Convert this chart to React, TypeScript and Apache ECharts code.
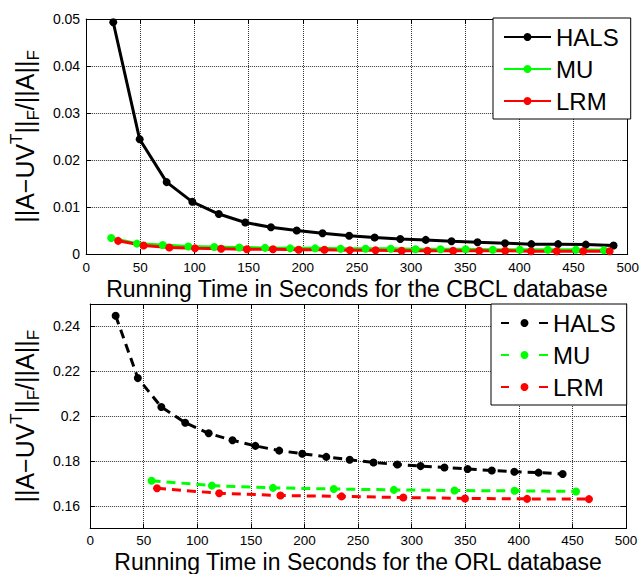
import React, { useEffect, useRef } from 'react';
import * as echarts from 'echarts';

// ---------- data ----------
const xTickValues = [0, 50, 100, 150, 200, 250, 300, 350, 400, 450, 500];
const cbclYTicks = [0, 0.01, 0.02, 0.03, 0.04, 0.05];
const orlYTicks = [0.16, 0.18, 0.2, 0.22, 0.24];
const seriesNames = ['HALS', 'MU', 'LRM'];

const cbclHalsX = [25, 49.4, 74.3, 98, 122.5, 146.9, 170.6, 194.4, 218.2, 242.8, 266.3, 290, 313.5, 337.3, 361.3, 386.7, 411, 435.7, 461.3, 486.9];
const cbclHalsY = [0.0493, 0.0244, 0.0153, 0.0111, 0.0085, 0.0067, 0.0057, 0.005, 0.0044, 0.0039, 0.0035, 0.0032, 0.003, 0.0027, 0.0025, 0.0023, 0.0021, 0.0021, 0.002, 0.0018];
const cbclMuX = [23.1, 46.9, 70.7, 94.4, 118.2, 141.4, 165.2, 188.3, 211.4, 234.9, 258, 281.2, 304.1, 327.2, 350.4, 375.4, 400.4, 426.2, 452.2, 478.1];
const cbclMuY = [0.0034, 0.0022, 0.0019, 0.0016, 0.0015, 0.0014, 0.0013, 0.0012, 0.0012, 0.0011, 0.0011, 0.0011, 0.001, 0.001, 0.001, 0.0009, 0.0009, 0.0009, 0.0009, 0.0008];
const cbclLrmX = [29.5, 53, 76.8, 100.5, 124.6, 148.4, 172.5, 196.2, 220, 243.4, 267.2, 291.3, 315.1, 338.8, 362.9, 386.9, 410.7, 434.5, 458.9, 483.3];
const cbclLrmY = [0.0028, 0.0018, 0.0014, 0.0012, 0.0011, 0.001, 0.001, 0.0009, 0.0009, 0.0008, 0.0008, 0.0007, 0.0007, 0.0007, 0.0007, 0.0007, 0.0006, 0.0006, 0.0006, 0.0006];

const orlHalsX = [23.8, 44.5, 66.4, 88.7, 110.6, 132.8, 154.2, 176.4, 197.9, 220.3, 242.2, 264.4, 286.7, 308.3, 330.6, 352.2, 374.8, 395.8, 418.4, 440.9];
const orlHalsY = [0.2448, 0.217, 0.2041, 0.1971, 0.1924, 0.1893, 0.1868, 0.1847, 0.1833, 0.1819, 0.1806, 0.1794, 0.1785, 0.1778, 0.1772, 0.1765, 0.1758, 0.1753, 0.1749, 0.1743];
const orlMuX = [57.3, 113.6, 170.6, 227.3, 283.4, 340, 396, 453.4];
const orlMuY = [0.1713, 0.1691, 0.1681, 0.1676, 0.1672, 0.1669, 0.1668, 0.1665];
const orlLrmX = [62.4, 120.4, 177.6, 234.6, 292.2, 349.8, 407.7, 465.5];
const orlLrmY = [0.1679, 0.1657, 0.1647, 0.1643, 0.1638, 0.1634, 0.1632, 0.1631];

const colors = ['#000000', '#00ff00', '#ff0000'];
const FONT = '"Liberation Sans", Arial, Helvetica, sans-serif';

const zip = (xs: number[], ys: number[]) => xs.map((x, i) => [x, ys[i]]);

const yName = '{m|||A\u2212UV}{sup|T}{m|||}{sub|F}{m|/||A||}{sub|F}';
const yNameStyle = {
  color: '#000',
  fontFamily: FONT,
  fontSize: 25,
  rich: {
    m: { fontSize: 25, fontFamily: FONT, color: '#000', lineHeight: 34 },
    sup: { fontSize: 17, fontFamily: FONT, color: '#000', verticalAlign: 'top', lineHeight: 17 },
    sub: { fontSize: 17, fontFamily: FONT, color: '#000', verticalAlign: 'bottom', lineHeight: 17 },
  },
};

const gridLine = { show: true, lineStyle: { color: '#333', type: 'dotted', width: 1 } };
const axisLineStyle = { show: true, onZero: false, lineStyle: { color: '#000', width: 1 } };
const tickStyle = { show: true, inside: true, length: 5, lineStyle: { color: '#000', width: 1 } };

function makeX(gridIndex: number, title: string, labelMargin: number, nameGap: number, nameLH: number) {
  return [
    {
      type: 'value', gridIndex, position: 'bottom', min: 0, max: 500, interval: 50,
      axisLine: axisLineStyle, axisTick: tickStyle,
      axisLabel: { color: '#000', fontSize: 13.5, lineHeight: 13.5, fontFamily: FONT, margin: labelMargin },
      splitLine: gridLine,
      name: title, nameLocation: 'middle', nameGap,
      nameTextStyle: { color: '#000', fontSize: 23, lineHeight: nameLH, fontFamily: FONT },
    },
    {
      type: 'value', gridIndex, position: 'top', min: 0, max: 500, interval: 50,
      axisLine: axisLineStyle, axisTick: tickStyle,
      axisLabel: { show: false }, splitLine: { show: false },
    },
  ];
}

export default function App() {
  const ref = useRef<HTMLDivElement>(null);
  useEffect(() => {
    if (!ref.current) return;
    const chart = echarts.init(ref.current, undefined, { renderer: 'svg' });
    const mk = (name: string, xs: number[], ys: number[], color: string, axis: number, dashed: boolean) => ({
      type: 'line', name, data: zip(xs, ys), xAxisIndex: axis, yAxisIndex: axis,
      symbol: 'circle', symbolSize: 8, showSymbol: true,
      lineStyle: { color, width: 3, type: dashed ? [9, 6] : 'solid' },
      itemStyle: { color },
      z: 3,
    });
    const legendBase = {
      orient: 'vertical',
      itemWidth: 47, itemHeight: 10, itemGap: 6,
      backgroundColor: '#fff', borderColor: '#000', borderWidth: 1, borderRadius: 0,
      textStyle: { color: '#000', fontSize: 24, fontFamily: FONT, lineHeight: 26 },
      selectedMode: false,
      formatter: (n: string) => n.split(' ')[0],
    };
    chart.setOption({
      animation: false,
      backgroundColor: '#fff',
      grid: [
        { left: 82, top: 19, width: 547, height: 235 },
        { left: 79, top: 304, width: 547, height: 227 },
      ],
      xAxis: [
        ...makeX(0, 'Running Time in Seconds for the CBCL database', 7, 25, 20),
        ...makeX(1, 'Running Time in Seconds for the ORL database', 5, 24, 18),
      ],
      yAxis: [
        {
          type: 'value', gridIndex: 0, position: 'left', min: 0, max: 0.05, interval: 0.01,
          axisLine: axisLineStyle, axisTick: tickStyle,
          axisLabel: { color: '#000', fontSize: 14, fontFamily: FONT, margin: 6 },
          splitLine: gridLine,
          name: yName, nameLocation: 'middle', nameGap: 41, nameTextStyle: yNameStyle,
        },
        {
          type: 'value', gridIndex: 0, position: 'right', min: 0, max: 0.05, interval: 0.01,
          axisLine: axisLineStyle, axisTick: tickStyle, axisLabel: { show: false }, splitLine: { show: false },
        },
        {
          type: 'value', gridIndex: 1, position: 'left', min: 0.15, max: 0.25, interval: 0.01,
          axisLine: axisLineStyle,
          axisTick: { ...tickStyle, customValues: orlYTicks },
          axisLabel: { color: '#000', fontSize: 14, fontFamily: FONT, margin: 10, customValues: orlYTicks },
          splitLine: gridLine,
          name: yName, nameLocation: 'middle', nameGap: 38, nameTextStyle: yNameStyle,
        },
        {
          type: 'value', gridIndex: 1, position: 'right', min: 0.15, max: 0.25, interval: 0.01,
          axisLine: axisLineStyle,
          axisTick: { ...tickStyle, customValues: orlYTicks },
          axisLabel: { show: false }, splitLine: { show: false },
        },
      ],
      legend: [
        {
          ...legendBase, left: 493, top: 18,
          padding: [6, 12, 5, 10],
          data: seriesNames,
        },
        {
          ...legendBase, left: 491, top: 304, itemGap: 6,
          padding: [6, 11, 5, 9],
          lineStyle: { type: [8, 30, 9, 10] },
          data: seriesNames.map((n) => n + ' (ORL)'),
        },
      ],
      series: [
        mk('HALS', cbclHalsX, cbclHalsY, colors[0], 0, false),
        mk('MU', cbclMuX, cbclMuY, colors[1], 0, false),
        mk('LRM', cbclLrmX, cbclLrmY, colors[2], 0, false),
        { ...mk('HALS (ORL)', orlHalsX, orlHalsY, colors[0], 0, true), xAxisIndex: 2, yAxisIndex: 2 },
        { ...mk('MU (ORL)', orlMuX, orlMuY, colors[1], 0, true), xAxisIndex: 2, yAxisIndex: 2 },
        { ...mk('LRM (ORL)', orlLrmX, orlLrmY, colors[2], 0, true), xAxisIndex: 2, yAxisIndex: 2 },
      ],
    } as any);
    return () => chart.dispose();
  }, []);
  void xTickValues; void cbclYTicks;
  return <div ref={ref} style={{ position: 'fixed', left: 0, top: 0, width: 642, height: 574, background: '#fff' }} />;
}
